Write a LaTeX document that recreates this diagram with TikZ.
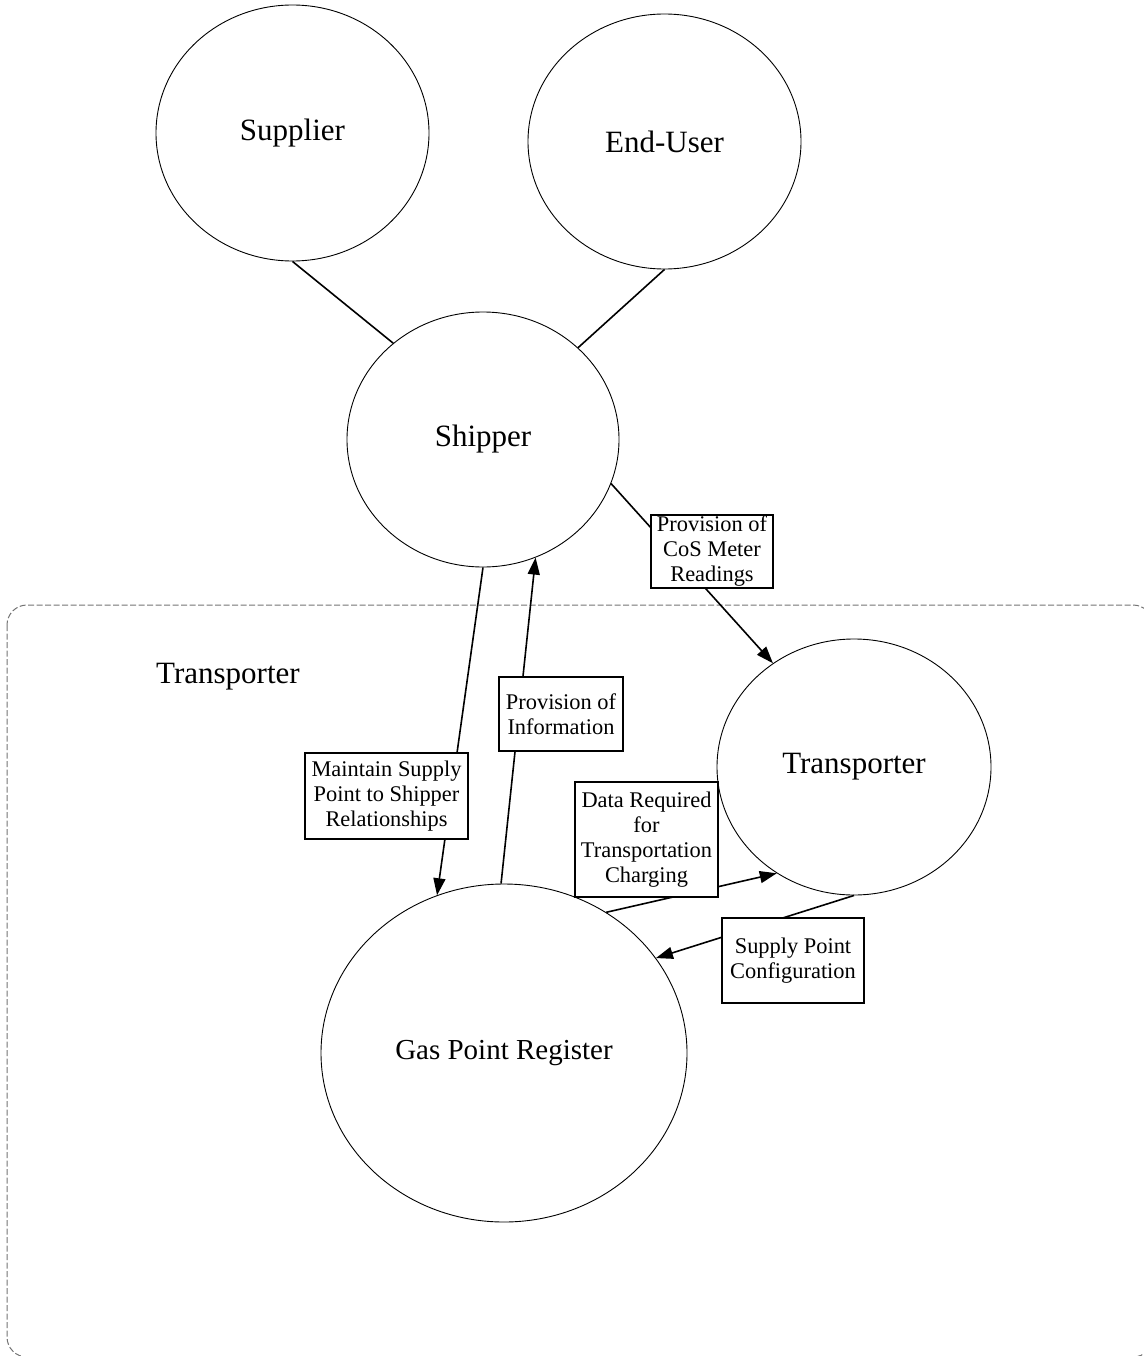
\documentclass[tikz,border=0pt]{standalone}
\usepackage{fontspec}
\setmainfont{Liberation Serif}
\usetikzlibrary{shapes.geometric,arrows.meta}
\begin{document}
\begin{tikzpicture}[x=1pt,y=-1pt,
  actor/.style={draw,ellipse,line width=0.9pt,inner sep=0pt,font=\fontsize{31}{36}\selectfont},
  flowbox/.style={draw,fill=white,line width=1.1pt,inner sep=0pt,align=center,font=\fontsize{22.4}{25}\selectfont},
  link/.style={line width=1.6pt},
  flow/.style={link,-{Triangle[length=17pt,width=12pt]}},
  area/.style={draw=black!55,dash pattern=on 6pt off 2.5pt,line width=1pt,rounded corners=20pt}]
\useasboundingbox (0,0) rectangle (1143,1356);
% transporter area
\draw[area] (7,605) rectangle (1153,1357);
\node[font=\fontsize{31}{36}\selectfont,anchor=west,inner sep=0pt] (arealabel) at (156,677) {Transporter};
% actors
\node[actor,minimum width=273pt,minimum height=256pt] (supplier) at (292.5,133) {Supplier};
\node[actor,minimum width=273pt,minimum height=255pt] (enduser) at (664.5,141.5) {End-User};
\node[actor,minimum width=272pt,minimum height=255pt] (shipper) at (483,439.5) {Shipper};
\node[actor,minimum width=274pt,minimum height=256pt] (transporter) at (854,767) {Transporter};
\node[actor,minimum width=366pt,minimum height=338pt,font=\fontsize{29}{34}\selectfont] (gpr) at (504,1053) {Gas Point Register};
% connectors
\draw[link] (supplier.south) -- (shipper.133);
\draw[link] (enduser.south) -- (shipper.44);
\draw[flow] (shipper.341) -- (transporter.128);
\draw[flow] (shipper.south) -- (gpr.113);
\draw[flow] (gpr.91) -- (shipper.294);
\draw[flow] (gpr.54) -- (transporter.234);
\draw[flow] (transporter.south) -- (gpr.32);
% labels
\node[flowbox,minimum width=122pt,minimum height=73pt] (cos) at (712,551.5) {Provision of\\CoS Meter\\Readings};
\node[flowbox,minimum width=124pt,minimum height=74pt] (info) at (561,714) {Provision of\\Information};
\node[flowbox,minimum width=163pt,minimum height=86pt] (maint) at (386.5,796) {Maintain Supply\\Point to Shipper\\Relationships};
\node[flowbox,minimum width=143pt,minimum height=115pt] (data) at (646.5,839.5) {Data Required\\for\\Transportation\\Charging};
\node[flowbox,minimum width=142pt,minimum height=85pt] (config) at (793,960.5) {Supply Point\\Configuration};
\end{tikzpicture}
\end{document}
